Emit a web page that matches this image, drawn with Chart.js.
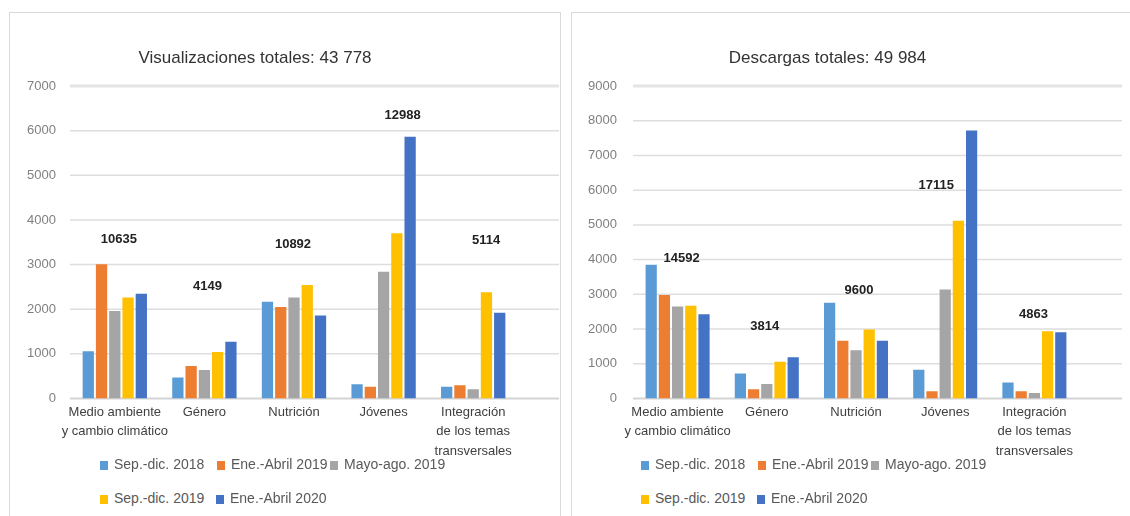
<!DOCTYPE html>
<html>
<head>
<meta charset="utf-8">
<script src="https://cdn.jsdelivr.net/npm/chart.js@4.4.1/dist/chart.umd.min.js"></script>
<style>
  body { margin: 0; background: #fff; font-family: "Liberation Sans", Arial, sans-serif; overflow: hidden; }
  .panel { position: absolute; border: 1.5px solid #d9d9d9; box-sizing: border-box; }
  .box { position: absolute; }
  .legend-item { position: absolute; height: 16px; line-height: 16px; font-size: 14px; color: #595959; white-space: nowrap; }
  .legend-item i { display: inline-block; width: 8px; height: 9px; margin-right: 6px; vertical-align: -1px; }
</style>
</head>
<body>
<div class="panel" style="left:9px;top:12px;width:552px;height:520px"></div>
<div class="panel" style="left:571px;top:12px;width:580px;height:520px"></div>
<div class="box" style="left:-8px;top:13px;width:567px;height:452px"><canvas id="vis"></canvas></div>
<div class="box" style="left:576px;top:13px;width:554px;height:452px"><canvas id="dl"></canvas></div>
<div id="legend-vis"></div>
<div id="legend-dl"></div>
<script>
const categories = [
  ["Medio ambiente", "y cambio climático"],
  "Género",
  "Nutrición",
  "Jóvenes",
  ["Integración", "de los temas", "transversales"],
];
const seriesNames = ["Sep.-dic. 2018", "Ene.-Abril 2019", "Mayo-ago. 2019", "Sep.-dic. 2019", "Ene.-Abril 2020"];
const seriesColors = ["#5b9bd5", "#ed7d31", "#a5a5a5", "#ffc000", "#4472c4"];

// Visualizaciones
const visSepDic2018 = [1060, 470, 2170, 320, 265];
const visEneAbr2019 = [3010, 730, 2050, 265, 295];
const visMayAgo2019 = [1960, 640, 2265, 2840, 210];
const visSepDic2019 = [2260, 1040, 2545, 3700, 2380];
const visEneAbr2020 = [2345, 1269, 1862, 5863, 1920];
const visTotals = [10635, 4149, 10892, 12988, 5114];
const visTicks = [0, 1000, 2000, 3000, 4000, 5000, 6000, 7000];

// Descargas
const dlSepDic2018 = [3850, 720, 2760, 830, 460];
const dlEneAbr2019 = [2980, 270, 1660, 210, 210];
const dlMayAgo2019 = [2650, 420, 1390, 3140, 160];
const dlSepDic2019 = [2670, 1060, 1990, 5120, 1940];
const dlEneAbr2020 = [2430, 1190, 1660, 7720, 1910];
const dlTotals = [14592, 3814, 9600, 17115, 4863];
const dlTicks = [0, 1000, 2000, 3000, 4000, 5000, 6000, 7000, 8000, 9000];

// where the total labels sit (value units) and their small x nudges
const visTotalAt = [3560, 2500, 3445, 6330, 3535];
const visTotalDx = [4, 3, -1, 19, 13];
const dlTotalAt = [4020, 2070, 3100, 6150, 2410];
const dlTotalDx = [4, -2, 3, -9, -1];

const gridPlugin = {
  id: "extGrid",
  beforeDatasetsDraw(chart, args, opts) {
    const { ctx, chartArea } = chart;
    const y = chart.scales.y;
    const right = chart.width - opts.rightGap;
    ctx.save();
    y.ticks.forEach((t, i) => {
      const py = y.getPixelForValue(t.value);
      const top = i === y.ticks.length - 1;
      ctx.strokeStyle = top ? "#e4e4e4" : (t.value === 0 ? "#d4d4d4" : "#dedede");
      ctx.lineWidth = top ? 3 : (t.value === 0 ? 2 : 1.5);
      ctx.beginPath();
      ctx.moveTo(chartArea.left, py);
      ctx.lineTo(right, py);
      ctx.stroke();
    });
    ctx.restore();
  },
};

const totalsPlugin = {
  id: "totals",
  afterDatasetsDraw(chart, args, opts) {
    const { ctx } = chart;
    const x = chart.scales.x, y = chart.scales.y;
    ctx.save();
    ctx.font = "bold 13px 'Liberation Sans', Arial, sans-serif";
    ctx.fillStyle = "#222";
    ctx.textAlign = "center";
    ctx.textBaseline = "middle";
    opts.totals.forEach((v, i) => {
      ctx.fillText(String(v), x.getPixelForValue(i) + opts.dx[i], y.getPixelForValue(opts.at[i]));
    });
    ctx.restore();
  },
};

function makeChart(id, title, series, ticks, totals, at, dx, axisWidth, tickPad, padRight, rightGap) {
  const datasets = series.map((d, i) => ({
    label: seriesNames[i],
    data: d,
    backgroundColor: seriesColors[i],
    categoryPercentage: 0.74,
    barPercentage: 0.85,
  }));
  return new Chart(document.getElementById(id), {
    type: "bar",
    data: { labels: categories, datasets },
    plugins: [gridPlugin, totalsPlugin],
    options: {
      responsive: true,
      maintainAspectRatio: false,
      animation: false,
      layout: { padding: { left: 0, right: padRight, top: 0, bottom: 0 } },
      scales: {
        x: {
          grid: { display: false, drawTicks: false },
          border: { display: false },
          afterFit: (s) => { s.paddingLeft = 0; s.paddingRight = 0; },
          ticks: {
            color: "#404040",
            padding: 4,
            font: { family: "'Liberation Sans', Arial, sans-serif", size: 13, lineHeight: 1.5 },
            maxRotation: 0,
            autoSkip: false,
          },
        },
        y: {
          min: 0,
          max: ticks[ticks.length - 1],
          afterBuildTicks: (s) => { s.ticks = ticks.map((v) => ({ value: v })); },
          afterFit: (s) => { s.width = axisWidth; },
          grid: { display: false, drawTicks: false },
          border: { display: false },
          ticks: {
            color: "#808080",
            padding: tickPad,
            callback: (v) => String(v),
            font: { family: "'Liberation Sans', Arial, sans-serif", size: 13 },
          },
        },
      },
      plugins: {
        legend: { display: false },
        tooltip: { enabled: false },
        title: {
          display: true,
          text: title,
          color: "#333",
          font: { family: "'Liberation Sans', Arial, sans-serif", size: 17, weight: "normal" },
          padding: { top: 35, bottom: 17.6 },
        },
        extGrid: { rightGap: rightGap },
        totals: { totals, at, dx },
      },
    },
  });
}

makeChart("vis", "Visualizaciones totales: 43 778",
  [visSepDic2018, visEneAbr2019, visMayAgo2019, visSepDic2019, visEneAbr2020],
  visTicks, visTotals, visTotalAt, visTotalDx, 78, 14, 41, 0);

makeChart("dl", "Descargas totales: 49 984",
  [dlSepDic2018, dlEneAbr2019, dlMayAgo2019, dlSepDic2019, dlEneAbr2020],
  dlTicks, dlTotals, dlTotalAt, dlTotalDx, 57, 16, 51, 8);

// html legends, two rows like the original
const legendSlots = [[0, 0], [117, 0], [230, 0], [0, 34], [116, 34]];
function makeLegend(id, ox, oy) {
  const el = document.getElementById(id);
  seriesNames.forEach((name, i) => {
    const d = document.createElement("div");
    d.className = "legend-item";
    d.style.left = (ox + legendSlots[i][0]) + "px";
    d.style.top = (oy + legendSlots[i][1] - 8) + "px";
    d.innerHTML = '<i style="background:' + seriesColors[i] + '"></i>' + name;
    el.appendChild(d);
  });
}
makeLegend("legend-vis", 100, 464);
makeLegend("legend-dl", 641, 464);
</script>
</body>
</html>
